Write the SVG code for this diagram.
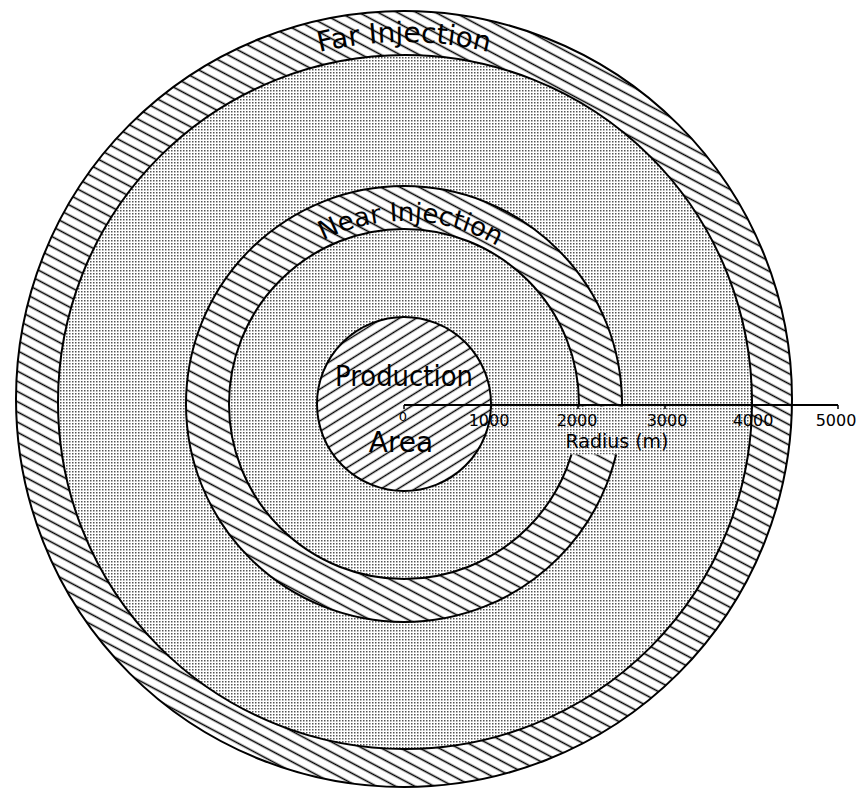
<svg xmlns="http://www.w3.org/2000/svg" width="863" height="793" viewBox="0 0 863 793">
  <defs>
    <pattern id="hatch" patternUnits="userSpaceOnUse" width="20" height="9" patternTransform="rotate(28)">
      <rect width="20" height="9" fill="#fff"/>
      <line x1="0" y1="4.5" x2="20" y2="4.5" stroke="#000" stroke-width="1.6"/>
    </pattern>
    <pattern id="hatch2" patternUnits="userSpaceOnUse" width="20" height="9" patternTransform="rotate(-32)">
      <rect width="20" height="9" fill="#fff"/>
      <line x1="0" y1="4.5" x2="20" y2="4.5" stroke="#000" stroke-width="1.5"/>
    </pattern>
    <pattern id="stipple" patternUnits="userSpaceOnUse" width="3" height="3">
      <rect width="3" height="3" fill="#fff"/>
      <rect width="1.5" height="1.5" fill="#555"/>
    </pattern>
    <path id="farArc" d="M 46 400 A 358 358 0 0 1 762 400"/>
    <path id="nearArc" d="M 222 404 A 183 183 0 0 1 588 404"/>
  </defs>
  <style>
    .ring { stroke: #000; stroke-width: 2; }
    .lbl { font-family: "DejaVu Sans", "Liberation Sans", sans-serif; fill: #000; }
    .big { font-size: 28px; }
    .tick { font-family: "DejaVu Sans", "Liberation Sans", sans-serif; font-size: 16px; text-anchor: middle; }
  </style>
  <rect width="863" height="793" fill="#fff"/>

  <g id="far-injection">
    <circle cx="404" cy="399" r="388" fill="url(#hatch)" class="ring"/>
    <circle cx="405" cy="402" r="347" fill="url(#stipple)" class="ring"/>
    <text class="lbl big"><textPath href="#farArc" startOffset="50%" text-anchor="middle">Far Injection</textPath></text>
  </g>

  <g id="near-injection">
    <circle cx="404" cy="404" r="218" fill="url(#hatch)" class="ring"/>
    <circle cx="404" cy="404" r="175" fill="url(#stipple)" class="ring"/>
    <rect x="569" y="406.5" width="60" height="48" fill="url(#stipple)"/>
    <text class="lbl" font-size="26"><textPath href="#nearArc" startOffset="51%" text-anchor="middle">Near Injection</textPath></text>
  </g>

  <g id="production-area">
    <circle cx="404" cy="404" r="87" fill="url(#hatch2)" class="ring"/>
    <text class="lbl big" x="335" y="386" textLength="138" lengthAdjust="spacingAndGlyphs">Production</text>
    <text class="lbl big" x="401" y="452" text-anchor="middle">Area</text>
  </g>

  <g id="axis">
    <line x1="404" y1="405" x2="838" y2="405" stroke="#000" stroke-width="2"/>
    <g stroke="#000" stroke-width="1.5">
      <line x1="404" y1="405" x2="404" y2="409"/>
      <line x1="491" y1="405" x2="491" y2="409"/>
      <line x1="578" y1="405" x2="578" y2="409"/>
      <line x1="665" y1="405" x2="665" y2="409"/>
      <line x1="752" y1="405" x2="752" y2="409"/>
      <line x1="838" y1="405" x2="838" y2="409"/>
    </g>
    <g class="lbl tick">
      <text x="403" y="421" font-size="13">0</text>
      <text x="489" y="426">1000</text>
      <text x="577" y="426">2000</text>
      <text x="667" y="426">3000</text>
      <text x="753" y="426">4000</text>
      <text x="836" y="426">5000</text>
    </g>
    <text class="lbl" font-size="19" x="617" y="448" text-anchor="middle">Radius (m)</text>
  </g>
</svg>
